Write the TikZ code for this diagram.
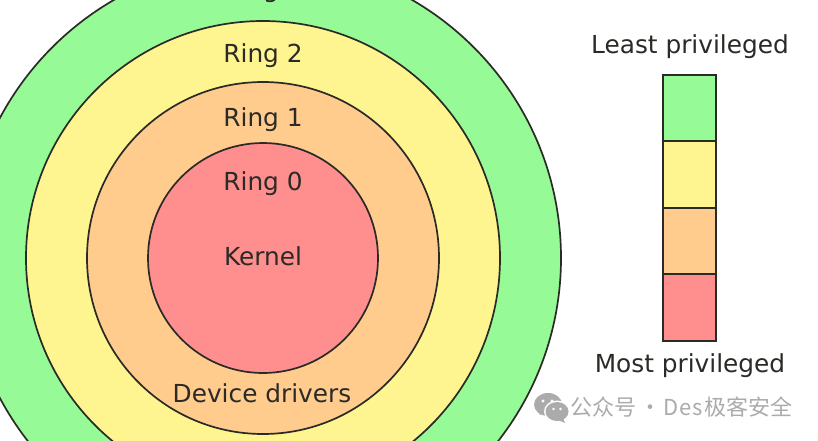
\documentclass[tikz,border=0pt]{standalone}
\usepackage{fontspec}
\setmainfont{DejaVu Sans}
\newfontfamily\cjk{Noto Sans CJK SC}
\definecolor{gr}{HTML}{96FB96}
\definecolor{ye}{HTML}{FFF590}
\definecolor{or}{HTML}{FFCC8E}
\definecolor{re}{HTML}{FF8E8E}
\definecolor{ink}{HTML}{2A2A26}
\definecolor{wm}{HTML}{ABABAB}
\tikzset{
  ring/.style={circle,draw=ink,line width=1.7pt,inner sep=0pt,minimum size=#1},
  lab/.style={text=ink,font=\fontsize{24.8}{28}\selectfont,inner sep=0pt,anchor=base},
  legend/.style={draw=ink,line width=1.7pt,minimum width=53pt,inner sep=0pt,outer sep=0pt}
}
\begin{document}
\begin{tikzpicture}[x=1pt,y=-1pt]
\useasboundingbox (0,0) rectangle (818,440);
\clip (0,0) rectangle (818,440);
\fill[white] (0,0) rectangle (818,440);
\coordinate (c) at (263,258);
\node[ring=596pt,fill=gr] (r3) at (c) {};
\node[ring=474pt,fill=ye] (r2) at (c) {};
\node[ring=352pt,fill=or] (r1) at (c) {};
\node[ring=230pt,fill=re] (r0) at (c) {};
\node[lab] (t3) at (263,-3) {Ring 3};
\node[lab] (t2) at (263,62) {Ring 2};
\node[lab] (t1) at (263,126) {Ring 1};
\node[lab] (t0) at (263,190) {Ring 0};
\node[lab] (k) at (263,265) {Kernel};
\node[lab] (d) at (262,402) {Device drivers};
\node[lab] (lp) at (690,53) {Least privileged};
\node[lab] (mp) at (690,372) {Most privileged};
\node[legend,fill=gr,minimum height=66.5pt] (l3) at (689.5,108) {};
\node[legend,fill=ye,minimum height=66.5pt] (l2) at (689.5,174.5) {};
\node[legend,fill=or,minimum height=66pt] (l1) at (689.5,241) {};
\node[legend,fill=re,minimum height=67pt] (l0) at (689.5,307.5) {};
% watermark
\fill[wm] (548,404.5) ellipse (14pt and 11.5pt);
\fill[wm] (540,415) -- (545,412) -- (538,411) -- cycle;
\fill[white] (557,411.5) ellipse (13pt and 11pt);
\fill[wm] (557,411.5) ellipse (11.5pt and 9.5pt);
\fill[wm] (563,418) -- (565,423) -- (558,420) -- cycle;
\fill[white] (543,401) circle (1.7pt) (552,401) circle (1.7pt) (553.5,409) circle (1.4pt) (560.5,409) circle (1.4pt);
\node[text=wm,font=\cjk\fontsize{22}{24}\selectfont,inner sep=0pt,anchor=base west] (w) at (570,415) {公众号\kern-2pt{} · \kern-3pt{}D\kern1pt{}e\kern1pt{}s\kern2pt{}极客安全};
\end{tikzpicture}
\end{document}
